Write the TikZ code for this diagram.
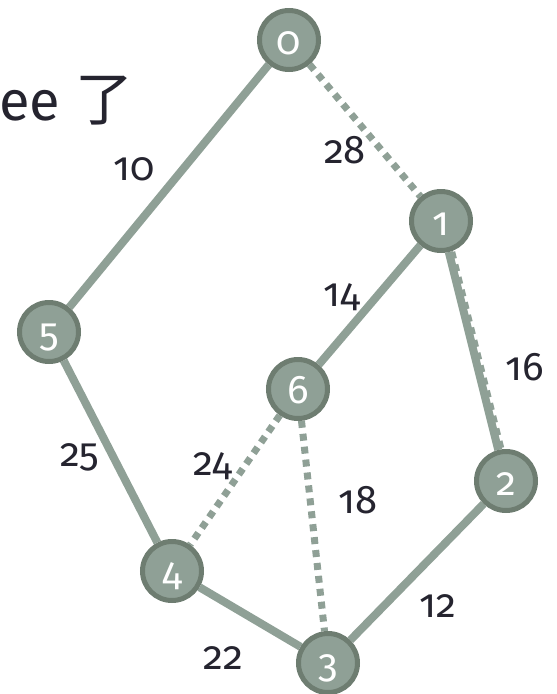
\documentclass[tikz,border=0pt]{standalone}
\usepackage{fontspec}
\setmainfont{Fira Sans}[Numbers=OldStyle]
\newfontfamily\cjkfont{Noto Sans CJK SC}
\usetikzlibrary{backgrounds}
\definecolor{edgec}{HTML}{8FA096}
\definecolor{vfill}{HTML}{8FA096}
\definecolor{vborder}{HTML}{6E7D71}
\definecolor{txt}{HTML}{25242F}
\begin{document}
\begin{tikzpicture}[x=1pt,y=-1pt,
  vtx/.style={circle, draw=vborder, fill=vfill, line width=5pt, minimum size=59pt, inner sep=0pt,
    text=white, font=\fontsize{40}{40}\selectfont, text height=28pt, text depth=0pt},
  wlabel/.style={anchor=base, text=txt, font=\fontsize{40}{40}\selectfont, inner sep=0pt},
  solidedge/.style={draw=edgec, line width=8pt},
  dotedge/.style={draw=edgec, line width=7pt, dash pattern=on 7pt off 6pt}]
\useasboundingbox (0,0) rectangle (557,694);

\node[anchor=base west, inner sep=0pt, text=txt, font=\fontsize{56}{56}\selectfont] (title) at (-1,120) {ee {\cjkfont\fontsize{58}{58}\selectfont 了}};

\node[vtx] (n0) at (289,40) {0};
\node[vtx] (n1) at (441,221) {1};
\node[vtx] (n2) at (506,481) {2};
\node[vtx] (n3) at (328,663) {3};
\node[vtx] (n4) at (172,571) {4};
\node[vtx] (n5) at (49,332) {5};
\node[vtx] (n6) at (298,389) {6};

\begin{pgfonlayer}{background}
\draw[solidedge] (n0) -- (n5);
\draw[solidedge] (n1) -- (n6);
\draw[solidedge] (n1) -- (n2);
\draw[dotedge, transform canvas={xshift=3pt}] (n1) -- (n2);
\draw[solidedge] (n5) -- (n4);
\draw[solidedge] (n4) -- (n3);
\draw[solidedge] (n3) -- (n2);
\draw[dotedge] (n0) -- (n1);
\draw[dotedge] (n6) -- (n4);
\draw[dotedge] (n6) -- (n3);
\end{pgfonlayer}

\node[wlabel] (w10) at (134,180) {10};
\node[wlabel] (w28) at (345,163) {28};
\node[wlabel] (w14) at (342,306) {14};
\node[wlabel] (w16) at (525,380) {16};
\node[wlabel] (w25) at (80,466) {25};
\node[wlabel] (w24) at (213,475) {24};
\node[wlabel] (w18) at (358,513) {18};
\node[wlabel] (w12) at (438,617) {12};
\node[wlabel] (w22) at (223,669) {22};
\end{tikzpicture}
\end{document}
